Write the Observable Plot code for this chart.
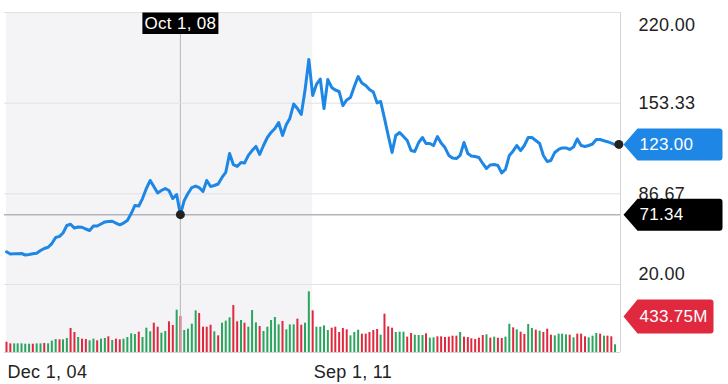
<!DOCTYPE html>
<html><head><meta charset="utf-8">
<script src="https://cdn.jsdelivr.net/npm/d3@7"></script>
<script src="https://cdn.jsdelivr.net/npm/@observablehq/plot@0.6"></script>
<style>
html,body{margin:0;padding:0;background:#fff;}
#chart{position:relative;width:728px;height:384px;overflow:hidden;}
#chart svg{position:absolute;left:0;top:0;letter-spacing:0.3px;}
</style></head><body><div id="chart"></div>
<script>
// ---- data ----
const startMonth = "2004-12-01";
const prices = [
44.1,42.4,42.6,42.6,42.8,41.7,42.1,42.6,43.0,45.0,
46.5,47.4,50.1,54.6,55.4,57.9,63.4,64.3,61.5,62.3,
62.1,60.8,59.7,63.0,63.0,64.5,66.0,66.3,66.5,65.2,
63.9,65.2,67.1,72.2,78.1,77.7,83.2,90.6,96.5,92.1,
87.3,89.1,90.6,89.1,83.2,86.2,71.34,81.8,86.9,91.3,
92.4,91.3,88.4,96.5,92.1,92.8,93.9,98.7,102.4,116.3,
108.2,106.8,109.7,109.3,114.9,118.5,121.5,115.6,122.2,128.1,
131.8,134.7,139.1,129.6,137.6,142.1,152.7,149.4,145.0,162.6,
185.4,159.0,167.1,171.1,149.4,170.7,164.9,163.0,161.9,151.6,
155.7,157.5,165.6,172.9,168.2,166.3,163.4,161.5,153.5,154.6,
142.1,129.6,117.1,129.6,131.8,128.8,125.9,118.5,117.8,124.4,
128.1,123.7,123.7,122.2,128.8,124.0,120.7,114.9,113.0,112.6,
114.9,124.4,116.3,114.5,114.1,113.4,109.0,105.3,107.9,108.2,
107.5,102.0,104.6,114.9,118.2,122.2,118.5,122.2,128.1,128.1,
125.9,123.7,114.9,110.4,111.2,117.1,119.3,120.4,120.4,119.3,
121.1,127.0,122.2,121.5,122.2,123.3,126.6,126.6,125.7,125.0,
124.0,122.9,123.00];
const volumes = [
124,104,104,104,104,100,100,100,104,104,
108,104,137,157,153,153,169,289,241,181,
161,157,141,161,141,161,169,189,145,161,
153,161,181,225,217,245,181,293,249,353,
305,233,253,370,325,510,433.75,265,281,341,
502,470,305,305,329,249,201,353,378,418,
566,370,386,353,305,506,357,313,253,305,
386,422,333,374,273,333,333,402,329,353,
731,502,305,305,321,265,293,305,241,289,
273,201,241,269,221,221,241,265,277,209,
462,309,293,241,245,245,185,229,209,205,
205,225,173,177,189,189,181,185,197,197,
241,185,181,165,157,173,205,213,173,185,
173,169,185,341,297,273,245,217,337,289,
269,257,241,281,209,201,221,221,213,209,
177,221,221,189,177,197,229,221,197,197,
189,93];
const volColors = ("rrgggggrgg"+"rgggrggrrg"+"rrggrggrgr"+"rggggrgggr"+"rggrrgrggg"+"grrrrgrggg"+"rrgrgggrgg"+"gggrgggrrg"+
  "grggggrrrr"+"rgggrrrrrg"+"rrrgggrrgg"+"grggrrrrrr"+"grrrrrrgrg"+"rrggrgrrgg"+"rgrrrggggr"+"grrrgggrgr"+"rg").split("");
const priceTicks = [220, 153.33, 86.67, 20];
const priceTickLabels = ["220.00", "153.33", "86.67", "20.00"];
const dateTicks = ["2004-12-01", "2011-09-01"];
const dateTickLabels = ["Dec 1, 04", "Sep 1, 11"];
const shadeSpan = ["2004-12-01", "2011-09-01"];
const crossDate = "2008-10-01";
const crossDateLabel = "Oct 1, 08";
const crossPrice = 71.34, crossPriceLabel = "71.34";
const lastPrice = 123.00, lastPriceLabel = "123.00";
const crossVolume = 433.75, crossVolumeLabel = "433.75M";

// ---- build ----
const months = prices.map((_, i) => d3.utcMonth.offset(new Date(startMonth), i));
const line = prices.map((p, i) => ({date: months[i], price: p}));
const bars = volumes.map((v, i) => ({date: months[i], vol: v, c: volColors[i]}));
const xDomain = [new Date(Date.UTC(2004, 10, 15)), new Date(Date.UTC(2018, 5, 14))];
const VOL_MAX = 4097;
const font = "'Liberation Sans', Arial, Helvetica, sans-serif";
const BLUE = "#1e87e6", GREEN = "#2aa55d", RED = "#e0283f", INK = "#222";

function pointerBox(tip, body, right, h, r) {
  return {draw(ctx) {
    ctx.moveTo(tip, 0);
    ctx.lineTo(body, -h);
    ctx.lineTo(right - r, -h);
    ctx.arcTo(right, -h, right, -h + r, r);
    ctx.lineTo(right, h - r);
    ctx.arcTo(right, h, right - r, h, r);
    ctx.lineTo(body, h);
    ctx.closePath();
  }};
}
const topBox = {draw(ctx) { ctx.moveTo(-38, 0); ctx.lineTo(38, 0); ctx.lineTo(38, 21.5); ctx.lineTo(-38, 21.5); ctx.closePath(); }};

const common = {width: 728, height: 384, marginLeft: 4, marginRight: 108,
  x: {type: "utc", domain: xDomain, axis: null}};

const plotA = Plot.plot({
  ...common, marginTop: 12, marginBottom: 32,
  y: {domain: [0, VOL_MAX], axis: null},
  style: {fontFamily: font, background: "white", overflow: "visible"},
  marks: [
    Plot.rect([shadeSpan], {x1: d => new Date(d[0]), x2: d => new Date(d[1]), y1: 0, y2: VOL_MAX, fill: "#f4f4f6"}),
    Plot.ruleX(bars.filter(d => d.c === "g"), {x: "date", y1: 0, y2: "vol", stroke: GREEN, strokeWidth: 2}),
    Plot.ruleX(bars.filter(d => d.c === "r"), {x: "date", y1: 0, y2: "vol", stroke: RED, strokeWidth: 2}),
    Plot.ruleY([0], {stroke: "#d4d4da", strokeWidth: 1}),
    Plot.ruleX([xDomain[1]], {stroke: "#d4d4da", strokeWidth: 1}),
    Plot.ruleX([new Date(crossDate)], {stroke: "#b6b6be", strokeWidth: 1}),
    Plot.text(dateTicks, {x: d => new Date(d), text: (d, i) => dateTickLabels[i], frameAnchor: "bottom",
      textAnchor: "start", lineAnchor: "bottom", dy: 25, dx: 1, fontSize: 18, fill: INK}),
    Plot.dot([crossVolume], {y: d => d, frameAnchor: "right", symbol: pointerBox(3, 17, 93, 17, 3), fill: RED, stroke: "none"}),
    Plot.text([crossVolume], {y: d => d, text: () => crossVolumeLabel, frameAnchor: "right", textAnchor: "start",
      dx: 19, fontSize: 17, fill: "white"})
  ]
});

const plotB = Plot.plot({
  ...common, marginTop: 12, marginBottom: 100,
  y: {domain: [20, 220], axis: null},
  style: {fontFamily: font, background: "none", overflow: "visible"},
  marks: [
    Plot.ruleY(priceTicks, {stroke: "#e0e0e6", strokeWidth: 1}),
    Plot.text([priceTicks[0]], {y: d => d, text: () => priceTickLabels[0], frameAnchor: "right", textAnchor: "start", dx: 18, dy: 12.5, fontSize: 18, fill: INK}),
    Plot.text(priceTicks.slice(1, 3), {y: d => d, text: (d, i) => priceTickLabels[i + 1], frameAnchor: "right", textAnchor: "start", dx: 18, dy: 0.5, fontSize: 18, fill: INK}),
    Plot.text([priceTicks[3]], {y: d => d, text: () => priceTickLabels[3], frameAnchor: "right", textAnchor: "start", dx: 18, dy: -10.5, fontSize: 18, fill: INK}),
    Plot.ruleY([crossPrice], {stroke: "#b4b4bc", strokeWidth: 1.5}),
    Plot.line(line, {x: "date", y: "price", stroke: BLUE, strokeWidth: 3, strokeLinejoin: "round"}),
    Plot.dot([line[46]], {x: "date", y: "price", r: 4.5, fill: "#222", stroke: "none"}),
    Plot.dot([line[line.length - 1]], {x: "date", y: "price", r: 4.5, fill: "#222", stroke: "none"}),
    Plot.dot([lastPrice], {y: d => d, frameAnchor: "right", symbol: pointerBox(3, 17, 102, 16, 3), fill: BLUE, stroke: "none"}),
    Plot.text([lastPrice], {y: d => d, text: () => lastPriceLabel, frameAnchor: "right", textAnchor: "start", dx: 19, fontSize: 17, fill: "white"}),
    Plot.dot([crossPrice], {y: d => d, frameAnchor: "right", symbol: pointerBox(3, 17, 102, 16, 3), fill: "#000", stroke: "none"}),
    Plot.text([crossPrice], {y: d => d, text: () => crossPriceLabel, frameAnchor: "right", textAnchor: "start", dx: 19, fontSize: 17, fill: "white"}),
    Plot.dot([crossDate], {x: d => new Date(d), frameAnchor: "top", symbol: topBox, fill: "#000", stroke: "none"}),
    Plot.text([crossDate], {x: d => new Date(d), text: () => crossDateLabel, frameAnchor: "top", lineAnchor: "middle", dy: 11, fontSize: 17, fill: "white"})
  ]
});

const el = document.getElementById("chart");
el.appendChild(plotA);
el.appendChild(plotB);
</script></body></html>
